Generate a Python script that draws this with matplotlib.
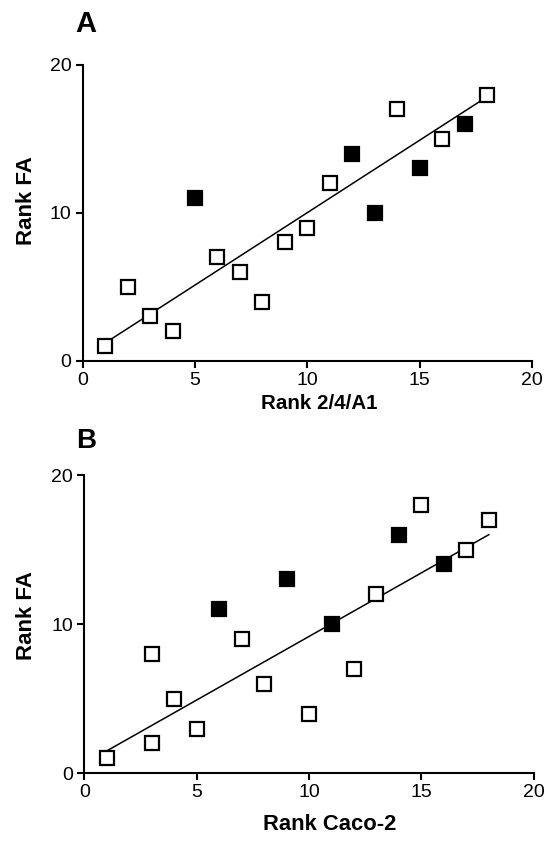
import matplotlib
matplotlib.use("Agg")
import matplotlib.pyplot as plt

plt.rcParams['font.family'] = ['Liberation Sans', 'DejaVu Sans']

# Panel A: Rank 2/4/A1 vs Rank FA
a_open_x = [1, 2, 3, 4, 6, 7, 8, 9, 10, 11, 14, 16, 18]
a_open_y = [1, 5, 3, 2, 7, 6, 4, 8, 9, 12, 17, 15, 18]
a_filled_x = [5, 12, 13, 15, 17]
a_filled_y = [11, 14, 10, 13, 16]
a_line_x = [1, 18]
a_line_y = [1.2, 17.85]

# Panel B: Rank Caco-2 vs Rank FA
b_open_x = [1, 3, 3, 4, 5, 7, 8, 10, 12, 13, 15, 17, 18]
b_open_y = [1, 8, 2, 5, 3, 9, 6, 4, 7, 12, 18, 15, 17]
b_filled_x = [6, 9, 11, 14, 16]
b_filled_y = [11, 13, 10, 16, 14]
b_line_x = [1, 18]
b_line_y = [1.5, 16.0]

ticks = [0, 5, 10, 15, 20]
yticks = [0, 10, 20]


def draw_panel(ax, ox, oy, fx, fy, lx, ly, xlabel, xsize, xlab_pos, ylab_pos):
    ax.plot(lx, ly, color="black", lw=1.1, zorder=2)
    ax.plot(ox, oy, linestyle="none", marker="s", ms=9.5, mew=1.6,
            mfc="white", mec="black", zorder=3, clip_on=False)
    ax.plot(fx, fy, linestyle="none", marker="s", ms=9.5, mew=1.6,
            mfc="black", mec="black", zorder=3, clip_on=False)
    ax.set_xlim(0, 20)
    ax.set_ylim(0, 20)
    ax.set_xticks(ticks)
    ax.set_yticks(yticks)
    for side in ["top", "right"]:
        ax.spines[side].set_visible(False)
    for side in ["left", "bottom"]:
        ax.spines[side].set_linewidth(1.5)
    ax.tick_params(direction="out", length=5, width=1.5, labelsize=14, pad=3)
    ax.set_xlabel(xlabel, fontsize=xsize, fontweight="bold")
    ax.set_ylabel("Rank FA", fontsize=16, fontweight="bold")
    ax.xaxis.set_label_coords(*xlab_pos)
    ax.yaxis.set_label_coords(*ylab_pos)


fig = plt.figure(figsize=(5.51, 8.44), dpi=100)
ax_a = fig.add_axes([0.1501, 0.5726, 0.8154, 0.3504])
ax_b = fig.add_axes([0.1530, 0.0838, 0.8158, 0.3534])

draw_panel(ax_a, a_open_x, a_open_y, a_filled_x, a_filled_y,
           a_line_x, a_line_y, "Rank 2/4/A1", 14.8, (0.526, -0.114), (-0.102, 0.54))
draw_panel(ax_b, b_open_x, b_open_y, b_filled_x, b_filled_y,
           b_line_x, b_line_y, "Rank Caco-2", 15.8, (0.545, -0.138), (-0.106, 0.53))

fig.text(0.136, 0.9624, "A", fontsize=21, fontweight="bold", va="baseline")
fig.text(0.139, 0.4688, "B", fontsize=20, fontweight="bold", va="baseline")

fig.savefig("out.png", dpi=100)
